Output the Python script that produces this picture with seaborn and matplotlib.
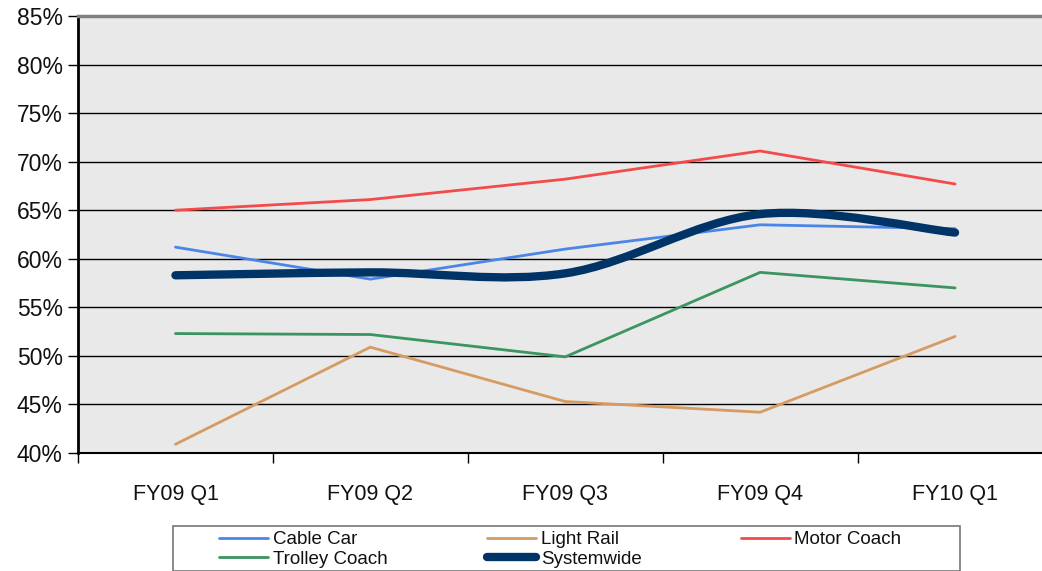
import numpy as np
import pandas as pd
import seaborn as sns
import matplotlib
matplotlib.use("Agg")
import matplotlib.pyplot as plt
from matplotlib.path import Path
from matplotlib.patches import PathPatch, Rectangle
from matplotlib.lines import Line2D
from matplotlib.ticker import FixedLocator, PercentFormatter

quarters = ["FY09 Q1", "FY09 Q2", "FY09 Q3", "FY09 Q4", "FY10 Q1"]
cable_car = [61.2, 57.9, 61.0, 63.5, 63.1]
light_rail = [40.9, 50.9, 45.3, 44.2, 52.0]
motor_coach = [65.0, 66.1, 68.2, 71.1, 67.7]
trolley_coach = [52.3, 52.2, 49.9, 58.6, 57.0]
systemwide = [58.3, 58.6, 58.5, 64.6, 62.7]

series_names = ["Cable Car", "Light Rail", "Motor Coach", "Trolley Coach"]
colors = {"Cable Car": "#4A86E8", "Light Rail": "#D59B63",
          "Motor Coach": "#F44A4A", "Trolley Coach": "#3A9560",
          "Systemwide": "#003366"}

df = pd.DataFrame({"Quarter": quarters, "Cable Car": cable_car,
                   "Light Rail": light_rail, "Motor Coach": motor_coach,
                   "Trolley Coach": trolley_coach})
long = df.melt(id_vars="Quarter", var_name="Mode", value_name="Pct")
long["x"] = long["Quarter"].map({q: i for i, q in enumerate(quarters)})

sns.set_theme(style="white")
plt.rcParams["font.family"] = ["Liberation Sans", "DejaVu Sans"]

fig = plt.figure(figsize=(10.42, 5.71), dpi=100)
W, H = 1042, 571
ax = fig.add_axes([78 / W, (H - 453) / H, (1052.5 - 78) / W, (453 - 16) / H])
ax.set_facecolor("#E9E9E9")

sns.lineplot(data=long, x="x", y="Pct", hue="Mode", palette=colors,
             hue_order=series_names, linewidth=2, ax=ax, legend=False,
             sort=False)

# smoothed systemwide line (Catmull-Rom -> cubic Bezier)
xs = np.arange(len(systemwide), dtype=float)
ys = np.array(systemwide, dtype=float)
verts = [(xs[0], ys[0])]
codes = [Path.MOVETO]
n = len(xs)
for i in range(n - 1):
    p0 = (xs[max(i - 1, 0)], ys[max(i - 1, 0)])
    p1 = (xs[i], ys[i])
    p2 = (xs[i + 1], ys[i + 1])
    p3 = (xs[min(i + 2, n - 1)], ys[min(i + 2, n - 1)])
    c1 = (p1[0] + (p2[0] - p0[0]) / 6, p1[1] + (p2[1] - p0[1]) / 6)
    c2 = (p2[0] - (p3[0] - p1[0]) / 6, p2[1] - (p3[1] - p1[1]) / 6)
    verts += [c1, c2, p2]
    codes += [Path.CURVE4] * 3
patch = PathPatch(Path(verts, codes), facecolor="none",
                  edgecolor=colors["Systemwide"], linewidth=6,
                  capstyle="round", joinstyle="round", zorder=5)
ax.add_patch(patch)

ax.set_xlim(-0.5, 4.5)
ax.set_ylim(40, 85)
ax.set_yticks(np.arange(40, 86, 5))
ax.yaxis.set_major_formatter(PercentFormatter(decimals=0))
ax.set_xticks(range(len(quarters)))
ax.set_xticklabels(quarters)
ax.xaxis.set_minor_locator(FixedLocator(np.arange(-0.5, 4.6, 1.0)))
ax.tick_params(axis="x", which="major", length=0, pad=22, labelsize=15.5,
               colors="#111111")
ax.tick_params(axis="x", which="minor", length=7, width=1, color="black",
               bottom=True, direction="out")
ax.tick_params(axis="y", length=7, width=1, color="black", left=True,
               direction="out", labelsize=16.5, pad=4, labelcolor="#111111")
ax.set_xlabel("")
ax.set_ylabel("")
ax.grid(axis="y", color="black", linewidth=1)
ax.grid(axis="x", visible=False)
ax.spines["right"].set_visible(False)
ax.spines["top"].set_color("#808080")
ax.spines["top"].set_linewidth(2.5)
ax.spines["left"].set_color("black")
ax.spines["left"].set_linewidth(2)
ax.spines["bottom"].set_color("black")
ax.spines["bottom"].set_linewidth(1.5)

# legend box
fig.patches.append(Rectangle((173 / W, 0), (960 - 173) / W, 1 - 526 / H,
                             transform=fig.transFigure, facecolor="white",
                             edgecolor="#777777", linewidth=1.2, zorder=0))

handles = [
    Line2D([], [], color=colors["Cable Car"], lw=2),
    Line2D([], [], color=colors["Trolley Coach"], lw=2),
    Line2D([], [], color=colors["Light Rail"], lw=2),
    Line2D([], [], color=colors["Systemwide"], lw=6, solid_capstyle="round"),
    Line2D([], [], color=colors["Motor Coach"], lw=2),
]
labels = ["Cable Car", "Trolley Coach", "Light Rail", "Systemwide", "Motor Coach"]
fs = 13.5
em = fs * 100 / 72
leg = fig.legend(handles, labels, ncol=3, loc="upper left",
                 bbox_to_anchor=(219 / W, 1 - 531 / H),
                 fontsize=fs, frameon=False,
                 handlelength=49 / em, handletextpad=5 / em, labelspacing=0.12,
                 borderpad=0, borderaxespad=0, columnspacing=99 / em)
for t in leg.get_texts():
    t.set_color("#111111")

fig.savefig("out.png", dpi=100)
